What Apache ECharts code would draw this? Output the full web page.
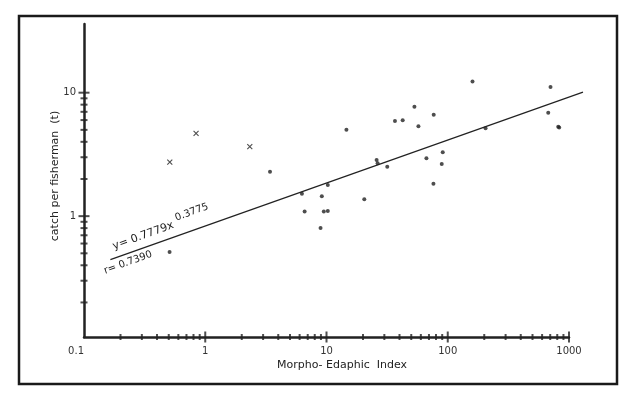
<!DOCTYPE html>
<html>
<head>
<meta charset="utf-8">
<script src="https://cdn.jsdelivr.net/npm/echarts@6/dist/echarts.min.js"></script>
<style>
html,body{margin:0;padding:0;background:#fff;}
#container_mei{width:633px;height:400px;}
</style>
</head>
<body>
<div id="container_mei"></div>
<script>
// lakes: [Morpho-Edaphic Index, catch per fisherman (t)]
var dots = [
  [0.508, 0.513], [3.42, 2.29], [6.27, 1.52], [6.6, 1.09], [8.93, 0.80],
  [9.15, 1.45], [9.5, 1.09], [10.25, 1.10], [10.25, 1.79], [14.6, 5.01],
  [20.5, 1.37], [25.9, 2.85], [26.4, 2.68], [31.7, 2.51], [36.7, 5.89],
  [42.5, 5.97], [53.1, 7.7], [57.3, 5.34], [66.7, 2.94], [76.2, 1.83],
  [76.6, 6.63], [89.2, 2.64], [90.9, 3.30], [160, 12.3], [205, 5.14],
  [674, 6.88], [704, 11.1], [815, 5.3], [830, 5.22]
];
// points marked with x
var crosses = [[0.51, 2.74], [0.84, 4.69], [2.33, 3.65]];
// fitted line as drawn: y = 0.7779x^0.3775 (runs a little past the axis end)
var fitLine = [[0.165, 0.445], [1300, 10.1]];

var xRange = [0.1, 1000];
var xRangeLine = [0.1, 1300];
var yRange = [0.105, 36];
var xMajorTicks = [1, 10, 100, 1000];
var xMinorTicks = [0.2, 0.3, 0.4, 0.5, 0.6, 0.7, 0.8, 0.9,
                   2, 3, 4, 5, 6, 7, 8, 9,
                   20, 30, 40, 50, 60, 70, 80, 90,
                   200, 300, 400, 500, 600, 700, 800, 900];
var yMajorTicks = [1, 10];
var yMinorTicks = [0.2, 0.3, 0.4, 0.5, 0.6, 0.7, 0.8, 0.9,
                   2, 3, 4, 5, 6, 7, 8, 9];

var ink = '#222';
var fontFam = '"DejaVu Sans", sans-serif';

var myChart = echarts.init(document.getElementById('container_mei'));

function tickSeries(data, size) {
  return {
    type: 'scatter',
    data: data,
    symbol: 'rect',
    symbolSize: size,
    clip: false,
    silent: true,
    itemStyle: { color: ink },
    z: 5
  };
}

var option = {
  animation: false,
  backgroundColor: '#fff',
  grid: [
    { left: 84, right: 64, top: 24, bottom: 63 },
    // same scale, widened so the fitted line can run past x = 1000
    { left: 84, right: 50, top: 24, bottom: 63 }
  ],
  xAxis: [{
    type: 'log',
    logBase: 10,
    min: xRange[0],
    max: xRange[1],
    axisLine: { show: true, lineStyle: { color: ink, width: 2.5 } },
    axisTick: { show: false },
    splitLine: { show: false },
    axisLabel: {
      margin: 9,
      color: '#333',
      fontSize: 10,
      fontFamily: fontFam,
      showMinLabel: true,
      alignMinLabel: 'right',
      formatter: function (v) { return String(+v.toPrecision(3)); }
    }
  }, {
    type: 'log', gridIndex: 1, min: xRangeLine[0], max: xRangeLine[1], show: false
  }],
  yAxis: [{
    type: 'log',
    logBase: 10,
    min: yRange[0],
    max: yRange[1],
    axisLine: { show: true, lineStyle: { color: ink, width: 2.5 } },
    axisTick: { show: false },
    splitLine: { show: false },
    axisLabel: {
      margin: 8,
      color: '#333',
      fontSize: 10,
      fontFamily: fontFam,
      showMinLabel: false,
      showMaxLabel: false,
      formatter: function (v) { return String(+v.toPrecision(3)); }
    }
  }, {
    type: 'log', gridIndex: 1, min: yRange[0], max: yRange[1], show: false
  }],
  series: [
    tickSeries(xMajorTicks.map(function (v) { return [v, yRange[0]]; }), [2, 11]),
    tickSeries(xMinorTicks.map(function (v) { return [v, yRange[0]]; }), [2, 6]),
    tickSeries(yMajorTicks.map(function (v) { return [xRange[0], v]; }), [11, 2]),
    tickSeries(yMinorTicks.map(function (v) { return [xRange[0], v]; }), [7, 2]),
    {
      type: 'line',
      xAxisIndex: 1,
      yAxisIndex: 1,
      data: fitLine,
      showSymbol: false,
      silent: true,
      lineStyle: { color: ink, width: 1.2 }
    },
    {
      type: 'scatter',
      data: dots,
      symbol: 'circle',
      symbolSize: 4,
      silent: true,
      itemStyle: { color: ink }
    },
    {
      type: 'scatter',
      data: crosses,
      symbol: 'path://M0,0L10,10M10,0L0,10',
      symbolSize: [5, 5],
      silent: true,
      itemStyle: { color: 'none', borderColor: ink, borderWidth: 1.1 }
    }
  ],
  graphic: [
    {
      type: 'rect',
      shape: { x: 19, y: 16, width: 598, height: 368 },
      style: { fill: 'none', stroke: '#1a1a1a', lineWidth: 2.5 }
    },
    {
      type: 'text', x: 55, y: 176, rotation: Math.PI / 2,
      style: { text: 'catch per fisherman  (t)', font: '11px ' + fontFam, fill: '#222',
               textAlign: 'center', textVerticalAlign: 'middle' }
    },
    {
      type: 'text', x: 342, y: 365,
      style: { text: 'Morpho- Edaphic  Index', font: '11px ' + fontFam, fill: '#222',
               textAlign: 'center', textVerticalAlign: 'middle' }
    },
    {
      type: 'text', x: 115, y: 252, rotation: 0.35,
      style: { text: 'y= 0.7779x', font: '11px ' + fontFam, fill: ink,
               textAlign: 'left', textVerticalAlign: 'bottom' }
    },
    {
      type: 'text', x: 177, y: 223, rotation: 0.35,
      style: { text: '0.3775', font: '10px ' + fontFam, fill: ink,
               textAlign: 'left', textVerticalAlign: 'bottom' }
    },
    {
      type: 'text', x: 106, y: 276, rotation: 0.35,
      style: { text: 'r= 0.7390', font: '10px ' + fontFam, fill: ink,
               textAlign: 'left', textVerticalAlign: 'bottom' }
    }
  ]
};

myChart.setOption(option);
window.onresize = myChart.resize;
</script>
</body>
</html>
